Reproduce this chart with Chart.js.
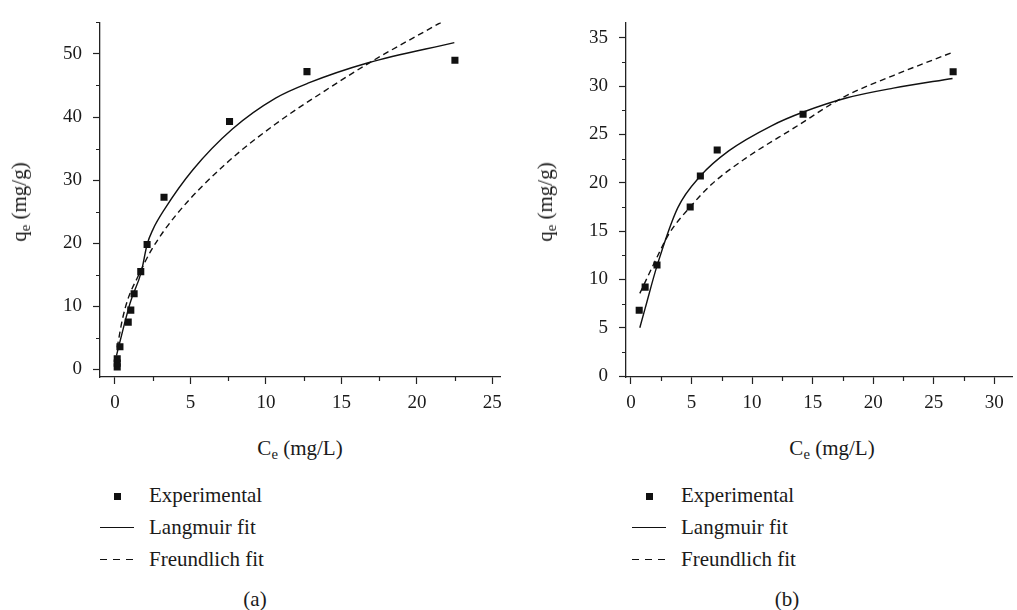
<!DOCTYPE html>
<html>
<head>
<meta charset="utf-8">
<script src="https://cdn.jsdelivr.net/npm/chart.js@4.4.0/dist/chart.umd.min.js"></script>
<style>
    body {
        margin: 0;
        width: 1017px;
        height: 610px;
        overflow: hidden;
        background: #fff;
        position: relative;
        font-family: "Liberation Serif", "Times New Roman", Times, "DejaVu Serif", serif;
        color: #1a1a1a;
    }
    canvas { position: absolute; top: 0; }
    #chartA { left: 0; }
    #chartB { left: 510px; }
    .txt { position: absolute; font-size: 21px; line-height: 24px; white-space: nowrap; }
    .txt sub { font-size: 0.7em; vertical-align: -0.3em; line-height: 0; }
    .center { transform: translateX(-50%); }
    .ytitle { transform: translate(-50%, -50%) rotate(-90deg); }
    .sym { position: absolute; }
    .sq { width: 7px; height: 7px; background: #111; }
    .solid { width: 34px; height: 0; border-top: 1.4px solid #111; }
    .dash { width: 34px; height: 1.4px; background: repeating-linear-gradient(90deg, #111 0 7px, transparent 7px 13px); }
</style>
</head>
<body>
<canvas id="chartA" width="510" height="420"></canvas>
<canvas id="chartB" width="507" height="420"></canvas>

<div class="txt ytitle" style="left:19px; top:202px;">q<sub>e</sub> (mg/g)</div>
<div class="txt center" style="left:300px; top:436px;">C<sub>e</sub> (mg/L)</div>
<div class="sym sq" style="left:114px; top:493px;"></div>
<div class="txt" style="left:149px; top:483px;">Experimental</div>
<div class="sym solid" style="left:100px; top:527px;"></div>
<div class="txt" style="left:149px; top:515px;">Langmuir fit</div>
<div class="sym dash" style="left:100px; top:559px;"></div>
<div class="txt" style="left:149px; top:547px;">Freundlich fit</div>
<div class="txt center" style="left:255px; top:587px;">(a)</div>

<div class="txt ytitle" style="left:545px; top:202px;">q<sub>e</sub> (mg/g)</div>
<div class="txt center" style="left:832px; top:436px;">C<sub>e</sub> (mg/L)</div>
<div class="sym sq" style="left:646px; top:493px;"></div>
<div class="txt" style="left:681px; top:483px;">Experimental</div>
<div class="sym solid" style="left:632px; top:527px;"></div>
<div class="txt" style="left:681px; top:515px;">Langmuir fit</div>
<div class="sym dash" style="left:632px; top:559px;"></div>
<div class="txt" style="left:681px; top:547px;">Freundlich fit</div>
<div class="txt center" style="left:787px; top:587px;">(b)</div>

<script>
const SERIF = '"Liberation Serif", "Times New Roman", Times, "DejaVu Serif", serif';

// (a) experimental points
const expAx = [0.15, 0.15, 0.15, 0.33, 0.88, 1.05, 1.27, 1.71, 2.13, 3.25, 7.59, 12.72, 22.52];
const expAy = [0.4, 1.0, 1.7, 3.6, 7.5, 9.4, 12.0, 15.5, 19.8, 27.3, 39.3, 47.2, 49.0];
// (a) Langmuir fit curve
const langAx = [0.1, 0.5, 1.0, 1.75, 2.13, 2.52, 3.29, 5.15, 7.78, 10.64, 12.83, 16.78, 22.48];
const langAy = [2.2, 6.0, 10.5, 15.5, 19.8, 22.2, 25.4, 31.6, 38.1, 43.0, 45.4, 48.6, 51.8];
// (a) Freundlich fit curve
const freuAx = [0.15, 0.5, 0.88, 1.5, 2.41, 4.06, 7.35, 10.64, 13.93, 17.0, 21.6];
const freuAy = [3.5, 8.0, 11.3, 14.6, 18.9, 24.5, 32.6, 38.9, 44.2, 48.8, 55.0];

// (b) experimental points
const expBx = [0.68, 1.17, 2.15, 4.89, 5.73, 7.12, 14.21, 26.6];
const expBy = [6.8, 9.2, 11.5, 17.5, 20.7, 23.4, 27.1, 31.5];
// (b) Langmuir fit curve
const langBx = [0.73, 1.17, 2.15, 3.86, 5.73, 8.07, 11.6, 14.18, 17.85, 21.66, 26.55];
const langBy = [5.0, 7.0, 11.4, 17.4, 20.7, 23.3, 25.9, 27.3, 28.8, 29.8, 30.8];
// (b) Freundlich fit curve
const freuBx = [0.73, 1.96, 3.18, 4.89, 6.71, 9.43, 13.5, 17.6, 21.66, 26.55];
const freuBy = [8.55, 11.8, 14.8, 17.5, 19.9, 22.5, 25.7, 28.9, 31.1, 33.5];

const INK = '#111';
const AXIS = '#222';

function pts(xs, ys) {
    return xs.map((x, i) => ({ x: x, y: ys[i] }));
}

function isMajor(v, step) {
    const r = v / step;
    return Math.abs(r - Math.round(r)) < 1e-6;
}

// short ticks between the labelled ones
const minorTicks = {
    id: 'minorTicks',
    afterDraw(chart, args, opts) {
        const { ctx, chartArea } = chart;
        const xs = chart.scales.x, ys = chart.scales.y;
        ctx.save();
        ctx.strokeStyle = AXIS;
        ctx.lineWidth = 1.2;
        ctx.beginPath();
        xs.ticks.forEach(t => {
            if (isMajor(t.value, opts.xMajor)) return;
            const px = Math.round(xs.getPixelForValue(t.value)) + 0.5;
            ctx.moveTo(px, chartArea.bottom);
            ctx.lineTo(px, chartArea.bottom + 4);
        });
        ys.ticks.forEach(t => {
            if (isMajor(t.value, opts.yMajor)) return;
            const py = Math.round(ys.getPixelForValue(t.value)) + 0.5;
            ctx.moveTo(chartArea.left, py);
            ctx.lineTo(chartArea.left - 4, py);
        });
        ctx.stroke();
        ctx.restore();
    }
};

function axis(min, max, minor, major, opts) {
    return {
        type: 'linear',
        min: min,
        max: max,
        border: { display: true, color: AXIS, width: 1.3 },
        grid: {
            display: true,
            drawOnChartArea: false,
            drawTicks: true,
            tickLength: 7,
            tickWidth: 1.2,
            tickColor: ctx => isMajor(ctx.tick.value, major) ? AXIS : 'rgba(0,0,0,0)'
        },
        ticks: {
            stepSize: minor,
            includeBounds: false,
            autoSkip: false,
            maxRotation: 0,
            maxTicksLimit: 100,
            color: '#1a1a1a',
            font: { family: SERIF, size: 19 },
            padding: opts.padding,
            callback: v => isMajor(v, major) ? String(Math.round(v)) : ''
        },
        afterFit: opts.fit
    };
}

function makeChart(id, cfg) {
    return new Chart(document.getElementById(id), {
        type: 'scatter',
        data: {
            datasets: [
                {
                    label: 'Experimental',
                    data: pts(cfg.ex, cfg.ey),
                    pointStyle: 'rect',
                    pointRadius: 5,
                    pointBorderWidth: 0,
                    backgroundColor: INK,
                    borderColor: INK,
                    showLine: false
                },
                {
                    label: 'Langmuir fit',
                    data: pts(cfg.lx, cfg.ly),
                    showLine: true,
                    pointRadius: 0,
                    borderColor: INK,
                    borderWidth: 1.4,
                    cubicInterpolationMode: 'monotone'
                },
                {
                    label: 'Freundlich fit',
                    data: pts(cfg.fx, cfg.fy),
                    showLine: true,
                    pointRadius: 0,
                    borderColor: INK,
                    borderWidth: 1.4,
                    borderDash: [6, 4],
                    cubicInterpolationMode: 'monotone'
                }
            ]
        },
        options: {
            responsive: false,
            animation: false,
            events: [],
            layout: { padding: { top: cfg.top, right: cfg.right, left: 0, bottom: 0 } },
            plugins: {
                legend: { display: false },
                tooltip: { enabled: false },
                minorTicks: { xMajor: cfg.xMajor, yMajor: cfg.yMajor }
            },
            scales: {
                x: axis(cfg.xMin, cfg.xMax, cfg.xMinor, cfg.xMajor, {
                    padding: 8,
                    fit: s => { s.height = 43; }
                }),
                y: axis(cfg.yMin, cfg.yMax, cfg.yMinor, cfg.yMajor, {
                    padding: 11,
                    fit: s => { s.width = cfg.yWidth; }
                })
            }
        },
        plugins: [minorTicks]
    });
}

makeChart('chartA', {
    ex: expAx, ey: expAy, lx: langAx, ly: langAy, fx: freuAx, fy: freuAy,
    xMin: -0.99, xMax: 25.53, xMinor: 2.5, xMajor: 5,
    yMin: -1.2, yMax: 55, yMinor: 5, yMajor: 10,
    top: 16.6, right: 7, yWidth: 100
});

makeChart('chartB', {
    ex: expBx, ey: expBy, lx: langBx, ly: langBy, fx: freuBx, fy: freuBy,
    xMin: -0.41, xMax: 31.46, xMinor: 2.5, xMajor: 5,
    yMin: -0.1, yMax: 36.6, yMinor: 2.5, yMajor: 5,
    top: 16, right: 0, yWidth: 116
});
</script>
</body>
</html>
